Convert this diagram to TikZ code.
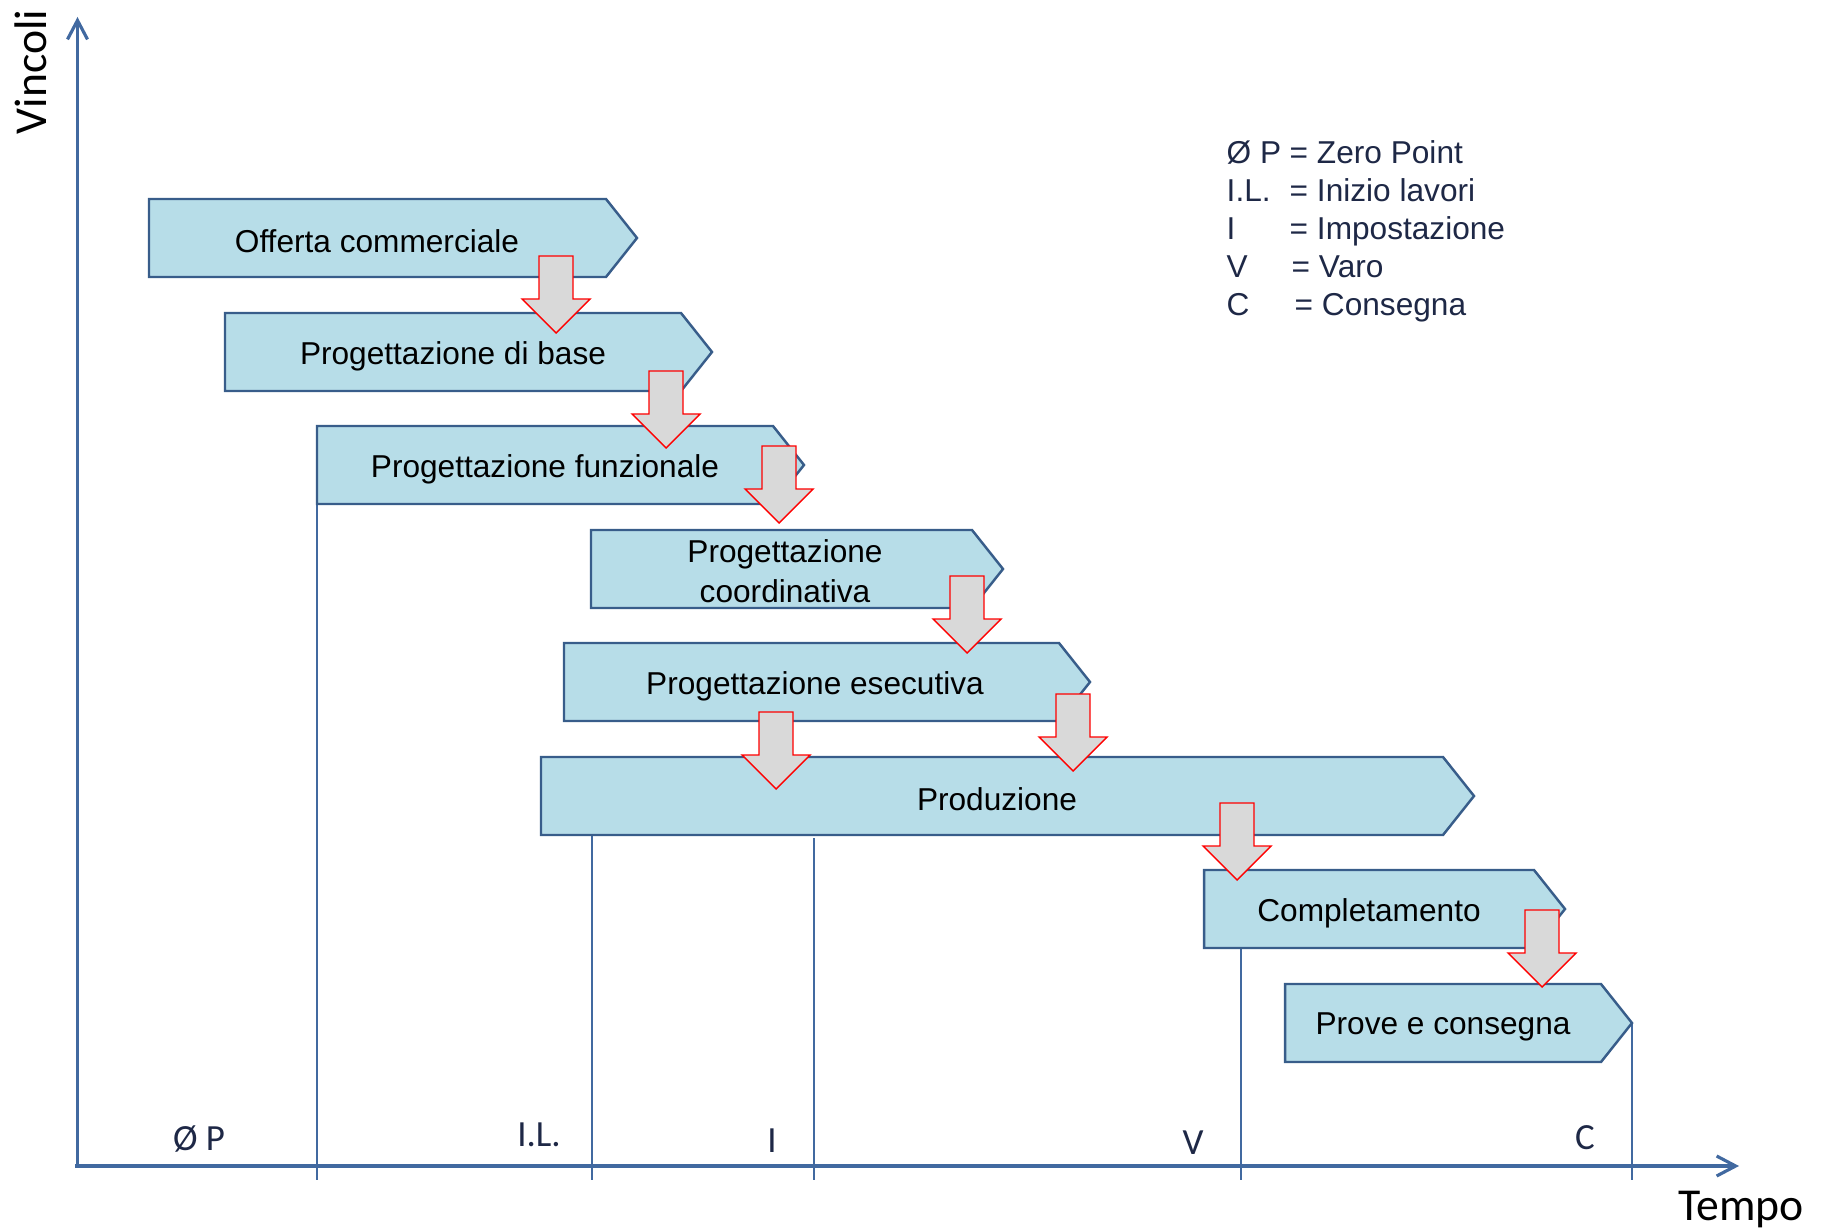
\documentclass[tikz,border=0pt]{standalone}
\usepackage{fontspec}
\setmainfont{Liberation Sans}
\newfontfamily\axisfont{Carlito}
\usetikzlibrary{arrows.meta}
\definecolor{boxfill}{RGB}{183,221,232}
\definecolor{boxline}{RGB}{56,93,138}
\definecolor{axisline}{RGB}{65,105,160}
\definecolor{navy}{RGB}{30,40,70}
\definecolor{flowfill}{RGB}{217,217,217}
\tikzset{phase/.style={draw=boxline,fill=boxfill,line width=0.7pt,line join=miter},
         phasetext/.style={font=\fontsize{9}{11.3}\selectfont,align=center,inner sep=0pt},
         flow/.style={draw=red,fill=flowfill,line width=0.4pt},
         axis/.style={draw=axisline,line width=0.9pt},
         milestone/.style={draw=axisline,line width=0.6pt},
         mlabel/.style={font=\axisfont\fontsize{10.5}{12}\selectfont,text=navy,anchor=base,inner sep=0pt},
         alabel/.style={font=\axisfont\fontsize{13}{15}\selectfont,anchor=base,inner sep=0pt},
         legend/.style={font=\fontsize{9}{11}\selectfont,text=navy,anchor=base west,inner sep=0pt}}
% phase box: left x, right x of body, centre y
\newcommand{\phasebox}[3]{\draw[phase]({#1},{#3-0.39})--({#2},{#3-0.39})--({#2+0.31},{#3})--({#2},{#3+0.39})--({#1},{#3+0.39})--cycle;}
% block arrow: centre x, top y
\newcommand{\flowarrow}[2]{\draw[flow]({#1-0.17},{#2})--({#1+0.17},{#2})--({#1+0.17},{#2-0.43})--({#1+0.34},{#2-0.43})--({#1},{#2-0.77})--({#1-0.34},{#2-0.43})--({#1-0.17},{#2-0.43})--cycle;}

\begin{document}
\begin{tikzpicture}
        \useasboundingbox (0,0) rectangle (18.25,12.29);
        % axes
        \draw[axis,-{Straight Barb[length=0.19cm,width=0.2cm]}](0.75,0.63)--(17.39,0.63);
        \draw[axis,-{Straight Barb[length=0.19cm,width=0.2cm]}](0.775,0.63)--(0.775,12.12);
        \node[alabel,rotate=90](vincoli)at(0.46,11.57){Vincoli};
        \node[alabel](tempo)at(17.41,0.09){Tempo};

        % milestones
        \draw[milestone](3.17,7.25)--(3.17,0.49);
        \draw[milestone](5.92,3.94)--(5.92,0.49);
        \draw[milestone](8.14,3.91)--(8.14,0.49);
        \draw[milestone](12.41,2.81)--(12.41,0.49);
        \draw[milestone](16.32,2.06)--(16.32,0.49);
        \node[mlabel](zp)at(1.99,0.79){Ø P};
        \node[mlabel](il)at(5.39,0.83){I.L.};
        \node[mlabel](imp)at(7.72,0.77){I};
        \node[mlabel](varo)at(11.93,0.75){V};
        \node[mlabel](cons)at(15.85,0.80){C};

        % phases
        \phasebox{1.49}{6.06}{9.91}
        \phasebox{2.25}{6.81}{8.77}
        \phasebox{3.17}{7.73}{7.64}
        \phasebox{5.91}{9.72}{6.60}
        \phasebox{5.64}{10.59}{5.47}
        \phasebox{5.41}{14.43}{4.33}
        \phasebox{12.04}{15.34}{3.20}
        \phasebox{12.85}{16.01}{2.06}
        \node[phasetext](offerta)at(3.77,9.88){Offerta commerciale};
        \node[phasetext](base)at(4.53,8.73){Progettazione di base};
        \node[phasetext](funz)at(5.45,7.60){Progettazione funzionale};
        \node[phasetext](coord)at(7.85,6.58){Progettazione\\coordinativa};
        \node[phasetext](esec)at(8.15,5.43){Progettazione esecutiva};
        \node[phasetext](prod)at(9.97,4.30){Produzione};
        \node[phasetext](compl)at(13.69,3.16){Completamento};
        \node[phasetext](prove)at(14.43,2.02){Prove e consegna};

        % hand-overs
        \flowarrow{5.56}{9.73}
        \flowarrow{6.66}{8.58}
        \flowarrow{7.79}{7.83}
        \flowarrow{9.67}{6.53}
        \flowarrow{7.76}{5.17}
        \flowarrow{10.73}{5.35}
        \flowarrow{12.37}{4.26}
        \flowarrow{15.42}{3.19}

        % legend
        \node[legend](lg1)at(12.26,10.65){\makebox[0.63cm][l]{Ø P}= Zero Point};
        \node[legend](lg2)at(12.26,10.27){\makebox[0.63cm][l]{I.L.}= Inizio lavori};
        \node[legend](lg3)at(12.26,9.89){\makebox[0.63cm][l]{I}= Impostazione};
        \node[legend](lg4)at(12.26,9.51){\makebox[0.65cm][l]{V}= Varo};
        \node[legend](lg5)at(12.26,9.13){\makebox[0.68cm][l]{C}= Consegna};
\end{tikzpicture}
\end{document}
